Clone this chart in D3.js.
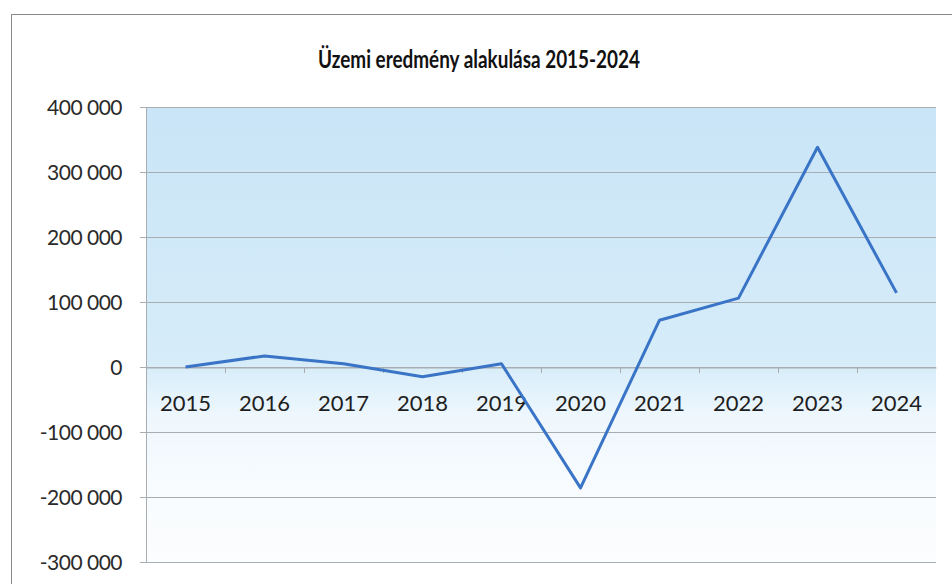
<!DOCTYPE html>
<html>
<head>
<meta charset="utf-8">
<script src="https://cdn.jsdelivr.net/npm/d3@7"></script>
<style>
  body { margin: 0; background: #fff; }
  text { font-family: Lato, "Open Sans", sans-serif; }
</style>
</head>
<body>
<div id="chart"></div>
<script>
// Data
const years = ["2015", "2016", "2017", "2018", "2019", "2020", "2021", "2022", "2023", "2024"];
const values = [0, 17000, 5000, -15000, 5000, -186000, 72000, 106000, 338000, 114000];
const yTicks = [-300000, -200000, -100000, 0, 100000, 200000, 300000, 400000];

const width = 952;
const height = 584;
const margin = { top: 107, right: 16, bottom: 22, left: 146 };

const svg = d3.select("#chart")
    .append("svg")
    .attr("width", width)
    .attr("height", height);

// chart frame
svg.append("rect")
    .attr("x", 11.5)
    .attr("y", 14.5)
    .attr("width", 960)
    .attr("height", 600)
    .attr("fill", "#fff")
    .attr("stroke", "#8a8a8a");

// Scales
const x = d3.scaleBand()
    .domain(years)
    .range([margin.left, width - margin.right]);

const y = d3.scaleLinear()
    .domain([-300000, 400000])
    .range([height - margin.bottom, margin.top]);

// background gradient of the plot area
const grad = svg.append("defs")
    .append("linearGradient")
    .attr("id", "plotBg")
    .attr("x1", "0%").attr("y1", "0%")
    .attr("x2", "0%").attr("y2", "100%");
grad.append("stop").attr("offset", "0%").attr("stop-color", "#c9e5f7");
grad.append("stop").attr("offset", "56%").attr("stop-color", "#d6ecf9");
grad.append("stop").attr("offset", "68%").attr("stop-color", "#eef7fd");
grad.append("stop").attr("offset", "82%").attr("stop-color", "#f7fbfe");
grad.append("stop").attr("offset", "100%").attr("stop-color", "#fcfdfe");

svg.append("rect")
    .attr("x", margin.left)
    .attr("y", y(400000))
    .attr("width", x.range()[1] - margin.left)
    .attr("height", y(-300000) - y(400000))
    .attr("fill", "url(#plotBg)");

// gridlines
svg.append("g")
    .selectAll("line")
    .data(yTicks)
    .enter().append("line")
    .attr("x1", margin.left - 6)
    .attr("x2", x.range()[1])
    .attr("y1", d => Math.round(y(d)) + 0.5)
    .attr("y2", d => Math.round(y(d)) + 0.5)
    .attr("stroke", "#a8adb2")
    .attr("stroke-width", 1);

// y axis line
svg.append("line")
    .attr("x1", margin.left + 0.5)
    .attr("x2", margin.left + 0.5)
    .attr("y1", y(400000))
    .attr("y2", y(-300000))
    .attr("stroke", "#a8adb2");

// y tick labels (space as thousands separator, plain hyphen for minus)
const fmt = d => d3.format(",")(d).replace(/,/g, " ").replace("\u2212", "-");
svg.append("g")
    .selectAll("text")
    .data(yTicks)
    .enter().append("text")
    .attr("x", 122)
    .attr("y", d => y(d))
    .attr("dy", "0.36em")
    .attr("text-anchor", "end")
    .style("font-size", "21px")
    .style("letter-spacing", "-0.5px")
    .style("fill", "#2a2a2a")
    .text(fmt);

// x axis at zero with tick marks between categories
const xAxis = d3.axisBottom(x).tickSize(0).tickFormat("");
svg.append("g")
    .attr("transform", `translate(0,${Math.round(y(0)) + 0.5})`)
    .call(xAxis)
    .call(g => g.select(".domain").attr("stroke", "#a8adb2"));

svg.append("g")
    .selectAll("line")
    .data(years.slice(1))
    .enter().append("line")
    .attr("x1", d => x(d) + 0.5)
    .attr("x2", d => x(d) + 0.5)
    .attr("y1", y(0))
    .attr("y2", y(0) + 6)
    .attr("stroke", "#a8adb2");

// category labels
svg.append("g")
    .selectAll("text")
    .data(years)
    .enter().append("text")
    .attr("x", d => x(d) + x.bandwidth() / 2)
    .attr("y", y(0) + 44)
    .attr("text-anchor", "middle")
    .style("font-size", "22px")
    .style("fill", "#1e1e1e")
    .text(d => d);

// line
const line = d3.line()
    .x((d, i) => x(years[i]) + x.bandwidth() / 2)
    .y(d => y(d));

svg.append("path")
    .datum(values)
    .attr("d", line)
    .attr("fill", "none")
    .attr("stroke", "#3a74c6")
    .attr("stroke-width", 3)
    .attr("stroke-linejoin", "round");

// title
svg.append("text")
    .attr("x", 479)
    .attr("y", 68)
    .attr("text-anchor", "middle")
    .attr("textLength", 322)
    .attr("lengthAdjust", "spacingAndGlyphs")
    .style("font-size", "24px")
    .style("font-weight", "bold")
    .style("fill", "#111")
    .text("Üzemi eredmény alakulása 2015-2024");
</script>
</body>
</html>
